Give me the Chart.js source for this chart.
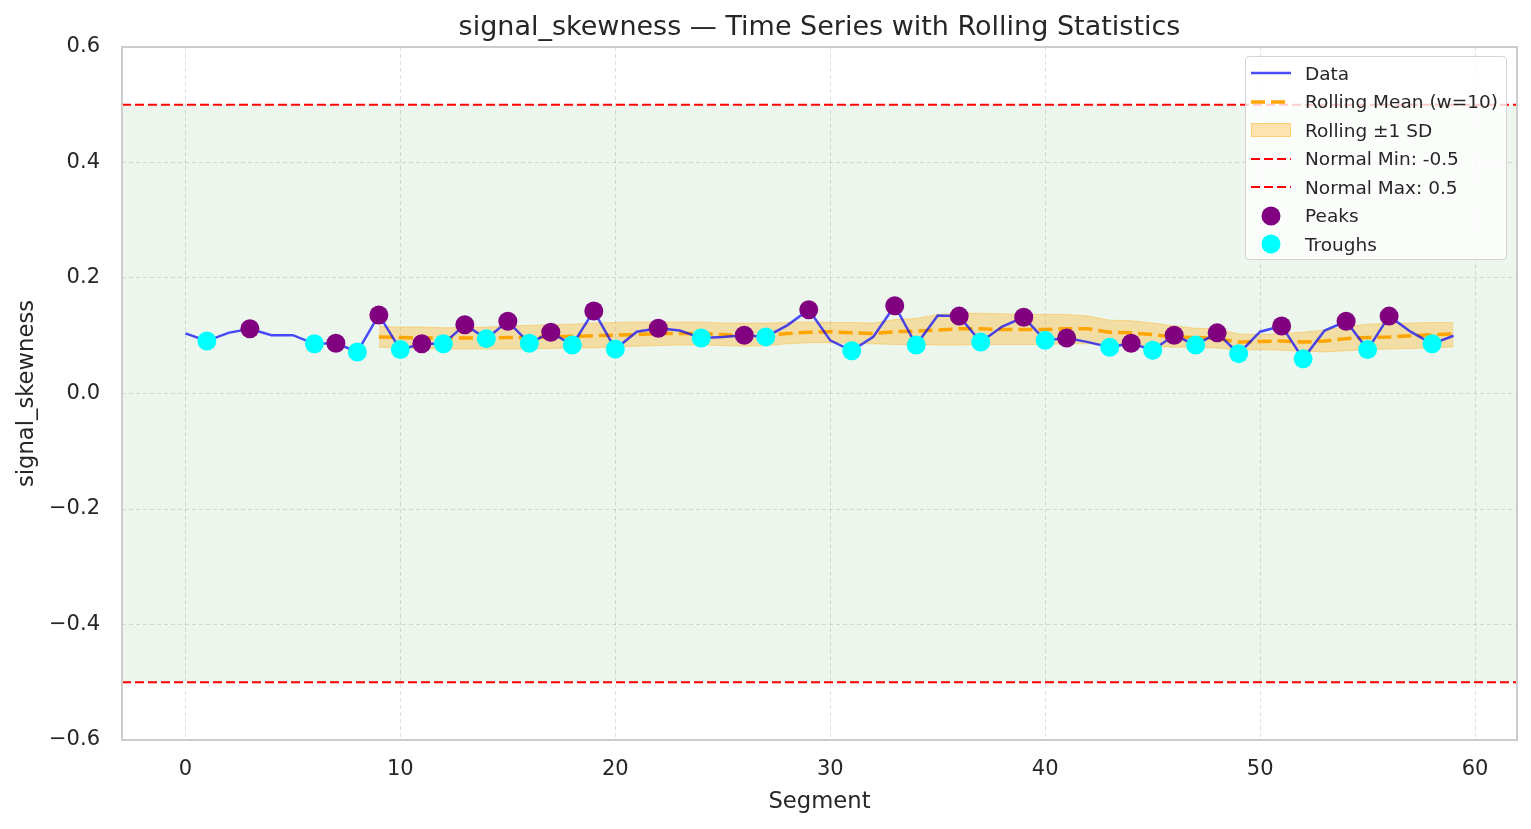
<!DOCTYPE html>
<html>
<head>
<meta charset="utf-8">
<script src="https://cdn.jsdelivr.net/npm/chart.js@4.4.1/dist/chart.umd.min.js"></script>
<style>
  html, body { margin: 0; padding: 0; background: #fff; }
  #wrap { position: relative; width: 1531px; height: 829px; font-family: "DejaVu Sans", sans-serif; color: #262626; }
  #titulo { position: absolute; left: 122px; width: 1395px; top: 9px; text-align: center; font-size: 27px; line-height: 34px; }
  #leyenda { position: absolute; left: 1245px; top: 56px; width: 262px; height: 204px; border: 1px solid #d4d4d4; border-radius: 4px; background: rgba(255,255,255,0.8); box-sizing: border-box; }
  .fila { position: absolute; left: 0; height: 24px; display: flex; align-items: center; font-size: 18.5px; white-space: nowrap; }
  .fila svg { margin-left: 5px; margin-right: 14px; flex: none; }
</style>
</head>
<body>
<div id="wrap">
  <canvas id="lienzo" width="1531" height="829"></canvas>
  <div id="titulo">signal_skewness — Time Series with Rolling Statistics</div>
  <div id="leyenda"></div>
</div>
<script>
"use strict";

// ── Datos ─────────────────────────────
const segmentos = [
  0, 1, 2, 3, 4, 5, 6, 7, 8, 9, 10, 11, 12, 13, 14, 15, 16, 17, 18, 19,
  20, 21, 22, 23, 24, 25, 26, 27, 28, 29, 30, 31, 32, 33, 34, 35, 36, 37, 38, 39,
  40, 41, 42, 43, 44, 45, 46, 47, 48, 49, 50, 51, 52, 53, 54, 55, 56, 57, 58, 59,
];

const valores = [
  0.104, 0.091, 0.105, 0.112, 0.101, 0.101, 0.086, 0.087, 0.072, 0.136,
  0.076, 0.086, 0.086, 0.119, 0.095, 0.125, 0.087, 0.106, 0.084, 0.143,
  0.077, 0.107, 0.113, 0.109, 0.096, 0.098, 0.101, 0.098, 0.118, 0.145,
  0.092, 0.074, 0.098, 0.152, 0.084, 0.135, 0.134, 0.089, 0.116, 0.132,
  0.092, 0.096, 0.089, 0.080, 0.087, 0.075, 0.101, 0.084, 0.105, 0.069,
  0.107, 0.117, 0.060, 0.109, 0.125, 0.076, 0.134, 0.107, 0.086, 0.100,
];

// media movil (ventana 10), empieza en el segmento 9
const inicioMedia = 9;
const mediaMovil = [
  0.098, 0.097, 0.096, 0.096, 0.096, 0.096, 0.097, 0.097, 0.098, 0.099,
  0.100, 0.101, 0.102, 0.104, 0.104, 0.104, 0.102, 0.100, 0.101, 0.104,
  0.106, 0.107, 0.105, 0.104, 0.107, 0.108, 0.110, 0.112, 0.112, 0.111,
  0.111, 0.111, 0.112, 0.112, 0.106, 0.105, 0.102, 0.098, 0.097, 0.095,
  0.089, 0.090, 0.091, 0.089, 0.091, 0.095, 0.097, 0.098, 0.100, 0.102,
  0.103,
];
const bandaSup = [
  0.116, 0.115, 0.115, 0.114, 0.114, 0.115, 0.117, 0.118, 0.119, 0.120,
  0.122, 0.123, 0.124, 0.124, 0.124, 0.124, 0.122, 0.122, 0.122, 0.123,
  0.124, 0.123, 0.123, 0.122, 0.128, 0.130, 0.137, 0.139, 0.139, 0.138,
  0.137, 0.137, 0.137, 0.134, 0.127, 0.126, 0.122, 0.117, 0.113, 0.112,
  0.103, 0.102, 0.104, 0.106, 0.110, 0.116, 0.120, 0.122, 0.122, 0.123,
  0.123,
];
const bandaInf = [
  0.080, 0.079, 0.077, 0.077, 0.077, 0.077, 0.077, 0.077, 0.078, 0.079,
  0.079, 0.081, 0.082, 0.083, 0.084, 0.084, 0.083, 0.082, 0.083, 0.086,
  0.088, 0.088, 0.087, 0.086, 0.085, 0.085, 0.084, 0.084, 0.085, 0.085,
  0.085, 0.085, 0.086, 0.086, 0.084, 0.083, 0.082, 0.080, 0.080, 0.079,
  0.075, 0.076, 0.075, 0.073, 0.072, 0.074, 0.076, 0.077, 0.078, 0.079,
  0.081,
];

const picos = [3, 7, 9, 11, 13, 15, 17, 19, 22, 26, 29, 33, 36, 39, 41, 44, 46, 48, 51, 54, 56];
const valles = [1, 6, 8, 10, 12, 14, 16, 18, 20, 24, 27, 31, 34, 37, 40, 43, 45, 47, 49, 52, 55, 58];

const normalMin = -0.5;
const normalMax = 0.5;

const ticksX = [0, 10, 20, 30, 40, 50, 60];
const ticksY = [-0.6, -0.4, -0.2, 0.0, 0.2, 0.4, 0.6];
const limitesX = [-2.95, 61.95];
const limitesY = [-0.6, 0.6];

// ── Construccion de series ─────────────────────────────
const puntos = segmentos.map((s, i) => ({ x: s, y: valores[i] }));
const serieDesde = (arr) => arr.map((v, i) => ({ x: segmentos[inicioMedia + i], y: v }));
const puntosIdx = (lista) => lista.map((i) => ({ x: segmentos[i], y: valores[i] }));
const lineaH = (v) => [{ x: limitesX[0], y: v }, { x: limitesX[1], y: v }];

const colorTexto = "#262626";
const fuente = "DejaVu Sans";

const bandaNormalPlugin = {
  id: "bandaNormal",
  beforeDraw(chart) {
    const { ctx, chartArea: a, scales } = chart;
    const y1 = scales.y.getPixelForValue(normalMax);
    const y2 = scales.y.getPixelForValue(normalMin);
    ctx.save();
    ctx.fillStyle = "rgba(0,128,0,0.075)";
    ctx.fillRect(a.left, y1, a.right - a.left, y2 - y1);
    ctx.restore();
  },
};

const marcoPlugin = {
  id: "marco",
  afterDatasetsDraw(chart) {
    const { ctx, chartArea: a } = chart;
    ctx.save();
    ctx.strokeStyle = "#cccccc";
    ctx.lineWidth = 2;
    ctx.strokeRect(a.left, a.top, a.right - a.left, a.bottom - a.top);
    ctx.restore();
  },
};

const fmtY = (v) => {
  const t = Math.abs(v).toFixed(1);
  return v < -1e-9 ? "\u2212" + t : t;
};

new Chart(document.getElementById("lienzo").getContext("2d"), {
  type: "line",
  data: {
    datasets: [
      { label: "Troughs", type: "scatter", data: puntosIdx(valles), backgroundColor: "#00ffff", borderWidth: 0, pointRadius: 9.5, order: 0 },
      { label: "Peaks", type: "scatter", data: puntosIdx(picos), backgroundColor: "#800080", borderWidth: 0, pointRadius: 9.5, order: 1 },
      { label: "Normal Max: 0.5", data: lineaH(normalMax), borderColor: "#ff0000", borderWidth: 2, borderDash: [9, 4], pointRadius: 0, order: 2 },
      { label: "Normal Min: -0.5", data: lineaH(normalMin), borderColor: "#ff0000", borderWidth: 2, borderDash: [9, 4], pointRadius: 0, order: 3 },
      { label: "Data", data: puntos, borderColor: "rgba(0,0,255,0.7)", borderWidth: 2.5, pointRadius: 0, tension: 0, order: 4 },
      { label: "Rolling Mean (w=10)", data: serieDesde(mediaMovil), borderColor: "#ffa500", borderWidth: 3.5, borderDash: [14, 6], pointRadius: 0, order: 5 },
      { label: "Rolling +1 SD", data: serieDesde(bandaSup), borderColor: "rgba(255,165,0,0.35)", borderWidth: 1, backgroundColor: "rgba(255,165,0,0.3)", fill: "+1", pointRadius: 0, order: 6 },
      { label: "Rolling -1 SD", data: serieDesde(bandaInf), borderColor: "rgba(255,165,0,0.35)", borderWidth: 1, pointRadius: 0, fill: false, order: 7 },
    ],
  },
  options: {
    responsive: false,
    animation: false,
    events: [],
    layout: { padding: { top: 47, right: 14, left: 0, bottom: 0 } },
    plugins: { legend: { display: false }, tooltip: { enabled: false }, title: { display: false } },
    scales: {
      x: {
        type: "linear",
        min: limitesX[0],
        max: limitesX[1],
        afterBuildTicks: (s) => { s.ticks = ticksX.map((v) => ({ value: v })); },
        afterFit: (s) => { s.height = 89; },
        grid: { color: "rgba(0,0,0,0.12)", lineWidth: 1, drawTicks: false },
        border: { display: false, dash: [4, 3] },
        ticks: { padding: 17, color: colorTexto, font: { family: fuente, size: 21 }, maxRotation: 0 },
        title: { display: true, text: "Segment", color: colorTexto, font: { family: fuente, size: 22.7 }, padding: { top: 0, bottom: 13 } },
      },
      y: {
        min: limitesY[0],
        max: limitesY[1],
        afterBuildTicks: (s) => { s.ticks = ticksY.map((v) => ({ value: v })); },
        afterFit: (s) => { s.width = 122; },
        grid: { color: "rgba(0,0,0,0.12)", lineWidth: 1, drawTicks: false },
        border: { display: false, dash: [4, 3] },
        ticks: { padding: 22, color: colorTexto, font: { family: fuente, size: 21 }, callback: (v) => fmtY(v) },
        title: { display: true, text: "signal_skewness", color: colorTexto, font: { family: fuente, size: 22.7 }, padding: { top: 13, bottom: 0 } },
      },
    },
  },
  plugins: [bandaNormalPlugin, marcoPlugin],
});

// ── Leyenda ─────────────────────────────
const entradas = [
  { texto: "Data", svg: '<line x1="0" y1="10" x2="40" y2="10" stroke="rgba(0,0,255,0.7)" stroke-width="2.5"/>' },
  { texto: "Rolling Mean (w=10)", svg: '<line x1="0" y1="10" x2="40" y2="10" stroke="#ffa500" stroke-width="3.5" stroke-dasharray="14 6"/>' },
  { texto: "Rolling \u00b11 SD", svg: '<rect x="0.5" y="3.5" width="39" height="13" fill="rgba(255,165,0,0.3)" stroke="rgba(255,165,0,0.45)" stroke-width="1"/>' },
  { texto: "Normal Min: -0.5", svg: '<line x1="0" y1="10" x2="40" y2="10" stroke="#ff0000" stroke-width="2" stroke-dasharray="9 4"/>' },
  { texto: "Normal Max: 0.5", svg: '<line x1="0" y1="10" x2="40" y2="10" stroke="#ff0000" stroke-width="2" stroke-dasharray="9 4"/>' },
  { texto: "Peaks", svg: '<circle cx="20" cy="10" r="9.5" fill="#800080"/>' },
  { texto: "Troughs", svg: '<circle cx="20" cy="10" r="9.5" fill="#00ffff"/>' },
];
const leyenda = document.getElementById("leyenda");
entradas.forEach((e, i) => {
  const fila = document.createElement("div");
  fila.className = "fila";
  fila.style.top = (4 + i * 28.5) + "px";
  fila.innerHTML = '<svg width="40" height="20" viewBox="0 0 40 20">' + e.svg + "</svg><span>" + e.texto + "</span>";
  leyenda.appendChild(fila);
});
</script>
</body>
</html>
